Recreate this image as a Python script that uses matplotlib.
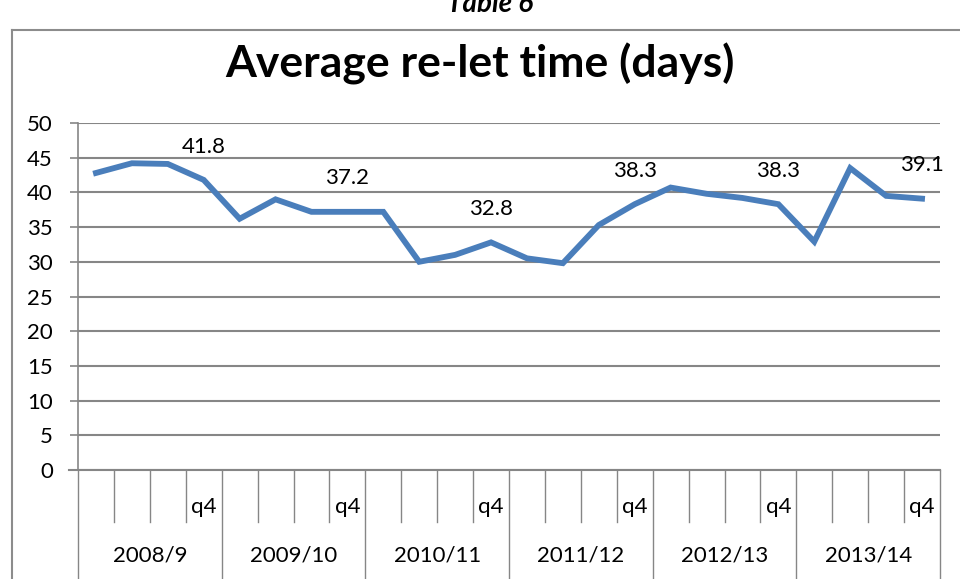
import matplotlib.pyplot as plt
from matplotlib.lines import Line2D

plt.rcParams['font.family'] = ['Lato', 'DejaVu Sans']

# data: 6 years x 4 quarters
years = ['2008/9', '2009/10', '2010/11', '2011/12', '2012/13', '2013/14']
quarters = ['', '', '', 'q4']
relet_days = [42.8, 44.2, 44.1, 41.8,
              36.2, 39.0, 37.2, 37.2,
              37.2, 30.0, 31.0, 32.8,
              30.5, 29.8, 35.3, 38.3,
              40.7, 39.8, 39.2, 38.3,
              32.9, 43.5, 39.5, 39.1]

fig = plt.figure(figsize=(9.6, 5.79), dpi=100)
ax = fig.add_axes([78/960, 1-470/579, (940-78)/960, (470-123)/579])

x = list(range(len(relet_days)))
ax.plot(x, relet_days, color='#4a7ebb', lw=4.2, solid_joinstyle='miter')

# labels only on q4 points
for i, v in enumerate(relet_days):
    if i % 4 == 3:
        ax.annotate(f'{v:.1f}', (i, v), xytext=(0, 24), textcoords='offset points',
                    ha='center', va='center', fontsize=16)

ax.set_xlim(-0.5, len(relet_days) - 0.5)
ax.set_ylim(0, 50)
ax.set_yticks(range(0, 51, 5))
ax.yaxis.grid(True, color='#868686', lw=1.5)
ax.set_axisbelow(True)
for s in ['top', 'right', 'bottom']:
    ax.spines[s].set_visible(False)
ax.spines['left'].set_color('#868686')
ax.spines['left'].set_linewidth(1.2)
ax.tick_params(axis='y', length=6, width=1.2, color='#868686', pad=12, labelsize=16)
ax.set_xticks([])

# multi-level category axis drawn by hand
tr = ax.get_xaxis_transform()
ax.add_line(Line2D([-0.75, 23.5], [0, 0], transform=tr, color='#868686', lw=1.5, clip_on=False))
for k in range(len(relet_days) + 1):
    b = k - 0.5
    low = -0.33 if k % 4 == 0 else -0.15
    ax.add_line(Line2D([b, b], [0, low], transform=tr, color='#868686', lw=1, clip_on=False))
for i in x:
    q = quarters[i % 4]
    if q:
        ax.text(i, -0.107, q, transform=tr, ha='center', va='center', fontsize=16)
for g, yr in enumerate(years):
    ax.text(g * 4 + 1.5, -0.245, yr, transform=tr, ha='center', va='center', fontsize=16)

# chart area border and title
fig.add_artist(Line2D([12/960, 12/960], [0, 1-30/579], color='#8c8c8c', lw=1.5))
fig.add_artist(Line2D([12/960, 1], [1-30/579, 1-30/579], color='#8c8c8c', lw=1.5))
fig.text(0.51, 1-12/579, 'Table 6', ha='center', va='baseline', fontsize=20,
         fontweight='bold', style='italic')
fig.text(0.50, 1-64/579, 'Average re-let time (days)', ha='center', va='center',
         fontsize=32, fontweight='bold')

fig.savefig('out.png', dpi=100)
